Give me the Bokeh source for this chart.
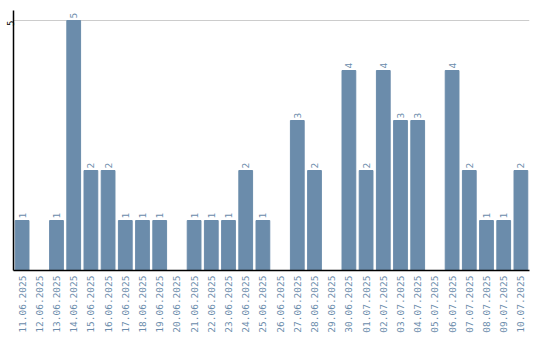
import math
from bokeh.plotting import figure
from bokeh.models import ColumnDataSource, FixedTicker
from bokeh.core.properties import value
from bokeh.embed import file_html
from bokeh.resources import INLINE

dates = ["11.06.2025", "12.06.2025", "13.06.2025", "14.06.2025", "15.06.2025",
         "16.06.2025", "17.06.2025", "18.06.2025", "19.06.2025", "20.06.2025",
         "21.06.2025", "22.06.2025", "23.06.2025", "24.06.2025", "25.06.2025",
         "26.06.2025", "27.06.2025", "28.06.2025", "29.06.2025", "30.06.2025",
         "01.07.2025", "02.07.2025", "03.07.2025", "04.07.2025", "05.07.2025",
         "06.07.2025", "07.07.2025", "08.07.2025", "09.07.2025", "10.07.2025"]
counts = [1, 0, 1, 5, 2, 2, 1, 1, 1, 0,
          1, 1, 1, 2, 1, 0, 3, 2, 0, 4,
          2, 4, 3, 3, 0, 4, 2, 1, 1, 2]
y_ticks = [5]

BAR = "#6b8cab"
FONT = "DejaVu Sans Mono"

src = ColumnDataSource(dict(x=dates, y=counts,
                            t=[str(c) if c > 0 else "" for c in counts]))

p = figure(x_range=dates, y_range=(0, 5.2), frame_width=516, frame_height=260,
           output_backend="svg", toolbar_location=None,
           min_border_left=0, min_border_right=10, min_border_top=10, min_border_bottom=0)
p.outline_line_color = None
p.background_fill_color = "white"

p.vbar(x="x", top="y", width=0.8, source=src, color=BAR)
p.text(x="x", y="y", text="t", source=src, angle=math.pi / 2,
       text_align="left", text_baseline="middle", y_offset=-2,
       text_font=value(FONT), text_font_size="9.5px", text_color=BAR)

p.xgrid.grid_line_color = None
p.ygrid.grid_line_color = "#cccccc"
p.ygrid.grid_line_width = 1
p.yaxis.ticker = FixedTicker(ticks=y_ticks)
p.yaxis.major_tick_line_color = None
p.yaxis.minor_tick_line_color = None
p.yaxis.major_tick_out = 0
p.yaxis.major_tick_in = 0
p.yaxis.minor_tick_out = 0
p.yaxis.major_label_orientation = math.pi / 2
p.yaxis.major_label_text_font = FONT
p.yaxis.major_label_text_font_size = "9px"
p.yaxis.major_label_text_color = "black"
p.yaxis.major_label_standoff = 3
p.yaxis.axis_line_color = "black"
p.yaxis.axis_line_width = 1.5

p.xaxis.major_tick_line_color = None
p.xaxis.minor_tick_line_color = None
p.xaxis.major_tick_out = 0
p.xaxis.major_tick_in = 0
p.xaxis.minor_tick_out = 0
p.xaxis.major_label_orientation = math.pi / 2
p.xaxis.major_label_text_font = FONT
p.xaxis.major_label_text_font_size = "9.5px"
p.xaxis.major_label_text_color = BAR
p.xaxis.major_label_standoff = 5
p.xaxis.axis_line_color = "black"
p.xaxis.axis_line_width = 1.5
p.x_range.range_padding = 0

open("out.html", "w").write(file_html(p, INLINE))
